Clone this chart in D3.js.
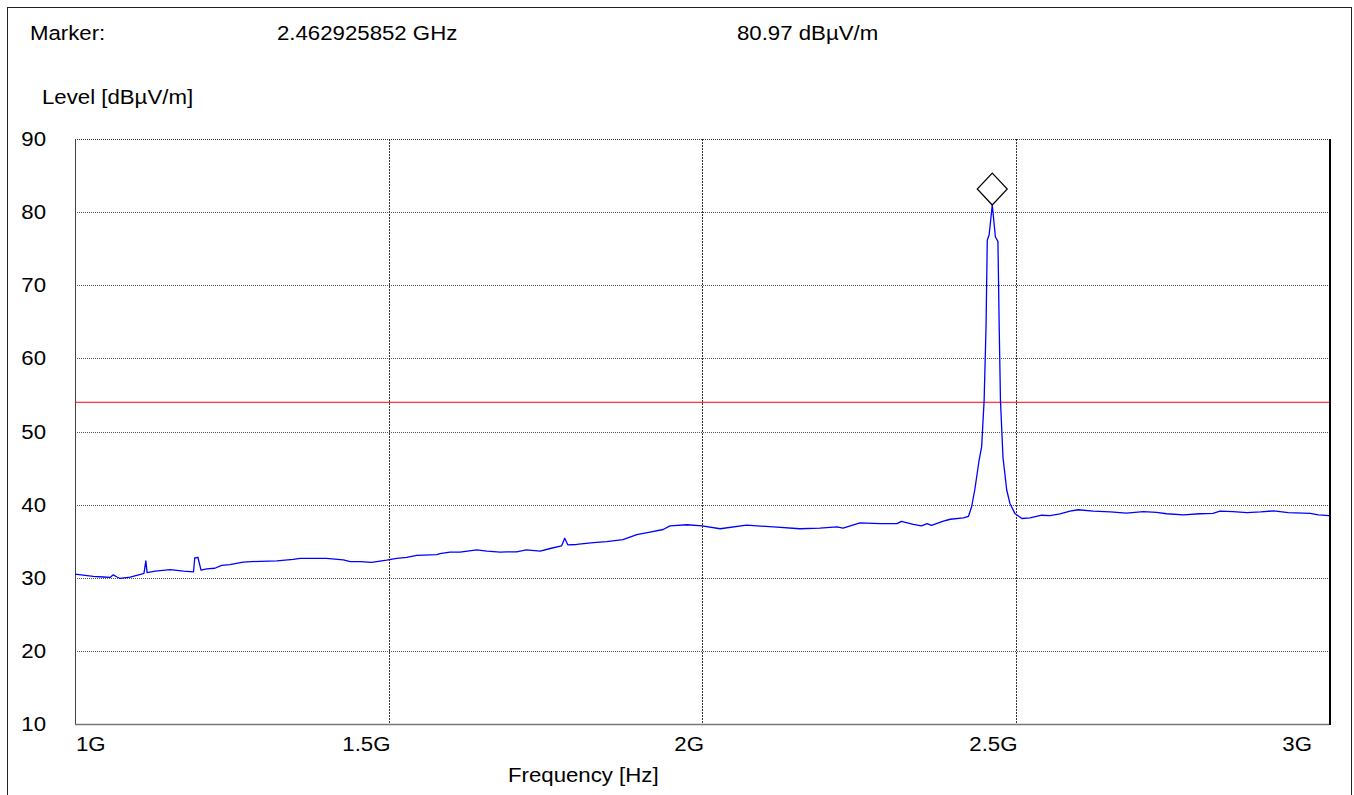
<!DOCTYPE html>
<html>
<head>
<meta charset="utf-8">
<script src="https://cdn.jsdelivr.net/npm/d3@7"></script>
<style>
  html, body { margin: 0; padding: 0; background: #fff; }
  svg { display: block; }
  text { font-family: "Liberation Sans", Arial, sans-serif; fill: #000; }
</style>
</head>
<body>
<svg id="chart" width="1354" height="795"></svg>
<script>
// Sweep frequencies (GHz) and measured field strength (dBµV/m)
const freqGHz = [
  1.000, 1.029, 1.045, 1.056, 1.061, 1.067, 1.072, 1.088, 1.106, 1.110,
  1.113, 1.115, 1.128, 1.152, 1.173, 1.189, 1.191, 1.196, 1.201, 1.210,
  1.223, 1.234, 1.247, 1.268, 1.295, 1.322, 1.348, 1.359, 1.401, 1.428,
  1.439, 1.455, 1.473, 1.497, 1.513, 1.529, 1.545, 1.577, 1.582, 1.598,
  1.614, 1.641, 1.657, 1.678, 1.689, 1.704, 1.720, 1.742, 1.758, 1.776,
  1.781, 1.786, 1.800, 1.827, 1.848, 1.874, 1.896, 1.917, 1.938, 1.949,
  1.976, 2.000, 2.029, 2.071, 2.114, 2.156, 2.188, 2.215, 2.225, 2.252,
  2.284, 2.311, 2.318, 2.337, 2.350, 2.359, 2.366, 2.385, 2.396, 2.417,
  2.425, 2.430, 2.435, 2.442, 2.446, 2.450, 2.453, 2.455, 2.458, 2.462925852,
  2.468, 2.472, 2.474, 2.476, 2.480, 2.486, 2.491, 2.499, 2.510, 2.523,
  2.542, 2.555, 2.571, 2.587, 2.600, 2.624, 2.651, 2.677, 2.704, 2.725,
  2.741, 2.768, 2.794, 2.815, 2.826, 2.847, 2.869, 2.891, 2.912, 2.935,
  2.970, 2.983, 3.000
];
const levelDb = [
  30.5, 30.2, 30.1, 30.05, 30.4, 30.1, 29.9, 30.1, 30.5, 30.6,
  32.3, 30.7, 30.9, 31.1, 30.9, 30.8, 32.7, 32.8, 31.05, 31.2,
  31.3, 31.7, 31.8, 32.15, 32.25, 32.3, 32.5, 32.65, 32.65, 32.45,
  32.2, 32.2, 32.1, 32.4, 32.65, 32.8, 33.05, 33.15, 33.3, 33.5,
  33.5, 33.8, 33.65, 33.5, 33.55, 33.55, 33.8, 33.65, 34.0, 34.35,
  35.4, 34.5, 34.55, 34.8, 34.95, 35.2, 35.9, 36.25, 36.6, 37.1,
  37.25, 37.1, 36.7, 37.2, 36.95, 36.7, 36.8, 36.95, 36.8, 37.5,
  37.4, 37.4, 37.7, 37.3, 37.1, 37.4, 37.15, 37.75, 38.0, 38.2,
  38.4, 39.7, 42.0, 46.1, 47.9, 54.3, 64.3, 76.2, 76.9, 80.97,
  76.6, 76.0, 64.3, 54.3, 46.5, 42.0, 40.2, 38.8, 38.1, 38.2,
  38.55, 38.5, 38.75, 39.1, 39.3, 39.1, 39.0, 38.85, 39.05, 38.95,
  38.75, 38.6, 38.75, 38.8, 39.1, 39.05, 38.9, 39.0, 39.15, 38.9,
  38.8, 38.6, 38.5
];

// Axis ticks and labels
const xTicksGHz = [1, 1.5, 2, 2.5, 3];
const xTickLabels = ["1G", "1.5G", "2G", "2.5G", "3G"];
const yTicks = [10, 20, 30, 40, 50, 60, 70, 80, 90];

// Limit line and marker readout
const limitDb = 54;
const markerFreqGHz = 2.462925852;
const markerLevelDb = 80.97;

(function draw() {
  const svg = d3.select("#chart");
  const pLeft = 75, pRight = 1329, pTop = 139, pBottom = 724;
  const stretchX = 1.14;  // horizontal stretch of the instrument font
  const fontSize = 19.5;

  const x = d3.scaleLinear().domain([1, 3]).range([pLeft, pRight]);
  const y = d3.scaleLinear().domain([10, 90]).range([pBottom, pTop]);

  function label(px, py, str, anchor) {
    svg.append("g").attr("transform", `translate(${px},${py})`)
      .append("text")
      .attr("transform", `scale(${stretchX},1)`)
      .attr("text-anchor", anchor || "start")
      .attr("font-size", fontSize)
      .text(str);
  }

  // outer frame
  svg.append("rect").attr("x", 7.5).attr("y", 7.5).attr("width", 1344).attr("height", 800)
    .attr("fill", "none").attr("stroke", "#222").attr("stroke-width", 1);

  // header
  label(30, 40, "Marker:");
  label(277, 40, `${markerFreqGHz.toFixed(9)} GHz`);
  label(737, 40, `${markerLevelDb.toFixed(2)} dBµV/m`);
  label(42, 104, "Level [dBµV/m]");

  // horizontal grid
  svg.append("g").selectAll("line").data(yTicks.filter(d => d > 10 && d < 90)).join("line")
    .attr("x1", pLeft).attr("x2", pRight)
    .attr("y1", d => Math.round(y(d)) + 0.5).attr("y2", d => Math.round(y(d)) + 0.5)
    .attr("stroke", "#555").attr("stroke-width", 1).attr("stroke-dasharray", "1,1");

  // vertical grid
  svg.append("g").selectAll("line").data(xTicksGHz.filter(d => d > 1 && d < 3)).join("line")
    .attr("x1", d => Math.round(x(d)) + 0.5).attr("x2", d => Math.round(x(d)) + 0.5)
    .attr("y1", pTop).attr("y2", pBottom)
    .attr("stroke", "#333").attr("stroke-width", 1).attr("stroke-dasharray", "2,1");

  // plot frame
  svg.append("line").attr("x1", pLeft).attr("x2", pRight).attr("y1", pTop + 0.5).attr("y2", pTop + 0.5)
    .attr("stroke", "#333").attr("stroke-dasharray", "1,1");
  svg.append("line").attr("x1", pLeft + 0.5).attr("x2", pLeft + 0.5).attr("y1", pTop).attr("y2", pBottom)
    .attr("stroke", "#444").attr("stroke-width", 1);
  svg.append("line").attr("x1", pLeft).attr("x2", pRight).attr("y1", pBottom + 0.5).attr("y2", pBottom + 0.5)
    .attr("stroke", "#777").attr("stroke-width", 1.5);
  svg.append("line").attr("x1", pRight + 1).attr("x2", pRight + 1).attr("y1", pTop).attr("y2", pBottom + 1)
    .attr("stroke", "#000").attr("stroke-width", 2);

  // y tick labels
  yTicks.forEach(d => label(46, y(d) + 7, String(d), "end"));

  // x tick labels
  const last = xTicksGHz.length - 1;
  xTicksGHz.forEach((d, i) => {
    if (i === 0) label(x(d) + 1, 751, xTickLabels[i], "start");
    else if (i === last) label(x(d) - 17, 751, xTickLabels[i], "end");
    else label(x(d) + 2, 751, xTickLabels[i], "end");
  });
  label(508, 782, "Frequency [Hz]");

  // limit line
  svg.append("line").attr("x1", pLeft).attr("x2", pRight)
    .attr("y1", y(limitDb)).attr("y2", y(limitDb))
    .attr("stroke", "#ff0000").attr("stroke-width", 1);

  // measured trace
  const pts = freqGHz.map((f, i) => [f, levelDb[i]]);
  svg.append("path").datum(pts)
    .attr("fill", "none").attr("stroke", "#0000ff").attr("stroke-width", 1.3)
    .attr("stroke-linejoin", "round")
    .attr("d", d3.line().x(d => x(d[0])).y(d => y(d[1])));

  // marker diamond sitting on the peak
  const mx = x(markerFreqGHz), my = y(markerLevelDb);
  svg.append("path")
    .attr("d", `M${mx},${my} L${mx + 15},${my - 16} L${mx},${my - 32} L${mx - 15},${my - 16} Z`)
    .attr("fill", "#fff").attr("stroke", "#000").attr("stroke-width", 1.2);
})();
</script>
</body>
</html>
